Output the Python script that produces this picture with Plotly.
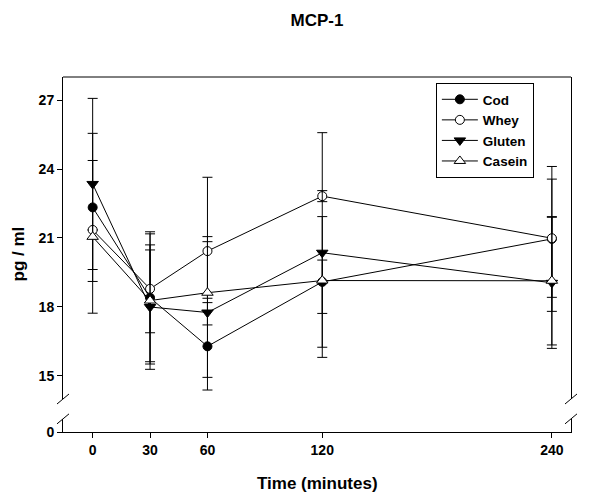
import plotly.graph_objects as go

# time points (minutes)
times = [0, 30, 60, 120, 240]

# group means (pg/ml)
cod = [22.33, 18.40, 16.29, 19.09, 20.96]
whey = [21.35, 18.79, 20.43, 22.82, 20.99]
gluten = [23.35, 18.00, 17.76, 20.36, 19.05]
casein = [21.05, 18.28, 18.62, 19.15, 19.14]

# error bars, upper and lower parts
cod_up = [3.22, 2.78, 1.90, 2.84, 3.15]
cod_dn = [3.22, 2.78, 1.90, 2.84, 3.15]
whey_up = [0, 1.91, 3.21, 0.24, 2.57]
whey_dn = [0, 1.91, 3.21, 0.24, 2.57]
gluten_up = [3.72, 2.48, 3.08, 5.22, 2.85]
gluten_dn = [3.72, 2.48, 2.82, 4.55, 2.85]
casein_up = [3.32, 2.99, 2.44, 0.89, 2.79]
casein_dn = [3.32, 2.99, 0.24, 1.43, 2.79]

names = ["Cod", "Whey", "Gluten", "Casein"]
means = [cod, whey, gluten, casein]
ups = [cod_up, whey_up, gluten_up, casein_up]
downs = [cod_dn, whey_dn, gluten_dn, casein_dn]
symbols = ["circle", "circle", "triangle-down", "triangle-up"]
fills = ["black", "white", "black", "white"]

FONT = "Liberation Sans, Arial, sans-serif"
OFF = 8  # the page body adds an 8px margin, pull everything up/left by that

fig = go.Figure()
for name, m, u, d, sym, fc in zip(names, means, ups, downs, symbols, fills):
    fig.add_trace(go.Scatter(
        x=times, y=m, name=name, mode="lines+markers",
        line=dict(color="black", width=1),
        marker=dict(symbol=sym, size=10 if "triangle" in sym else 9, color=fc,
                    line=dict(color="black", width=1)),
        error_y=dict(type="data", symmetric=False, array=u, arrayminus=d,
                     color="black", thickness=1, width=5),
    ))

# empty trace so the lower (0) part of the broken axis is drawn
fig.add_trace(go.Scatter(x=[None], y=[None], yaxis="y2", showlegend=False,
                         hoverinfo="skip"))

# broken y axis: upper part 14-28, lower part just 0
lo_top = 0.037
up_bot = 0.093

tickf = dict(size=14, weight="bold", family=FONT)

fig.update_layout(
    width=600, height=496,
    margin=dict(l=63 - OFF, r=29 + OFF, t=77 - OFF, b=64 + OFF),
    paper_bgcolor="white", plot_bgcolor="white",
    font=dict(family=FONT, color="black", size=12),
    title=dict(text="MCP-1", x=0.5, xref="paper", y=1 - (20 - OFF) / 496, yref="container",
               xanchor="center", yanchor="middle", automargin=False,
               font=dict(size=17, weight="bold", family=FONT)),
    xaxis=dict(range=[-15.5, 250], tickvals=times, ticktext=[str(t) for t in times],
               ticks="outside", ticklen=5, tickcolor="black", showline=True,
               linecolor="black", linewidth=1, showgrid=False, zeroline=False,
               anchor="y2", automargin=False, tickfont=tickf),
    yaxis=dict(domain=[up_bot, 1], range=[14, 28], tickvals=[15, 18, 21, 24, 27],
               ticks="outside", ticklen=5, tickcolor="black", showline=True, mirror=True,
               linecolor="black", linewidth=1, showgrid=False, zeroline=False,
               anchor="x", automargin=False, tickfont=tickf),
    yaxis2=dict(domain=[0, lo_top], range=[0, 0.565], tickvals=[0],
                ticks="outside", ticklen=5, tickcolor="black", showline=True, mirror=True,
                linecolor="black", linewidth=1, showgrid=False, zeroline=False,
                anchor="x", automargin=False, tickfont=tickf),
    legend=dict(x=0.734, y=0.983, xanchor="left", yanchor="top",
                bordercolor="black", borderwidth=1, bgcolor="white",
                font=dict(size=13.5, weight="bold", family=FONT),
                itemwidth=36, tracegroupgap=0),
    showlegend=True,
)

# top frame line and break marks
shapes = [dict(type="line", xref="paper", yref="paper", x0=0, x1=1, y0=1, y1=1,
               line=dict(color="black", width=1))]
for xa in [0, 1]:
    for ya in [up_bot, lo_top]:
        shapes.append(dict(type="line", xref="paper", yref="paper",
                           xsizemode="pixel", xanchor=xa, x0=-6, x1=6,
                           ysizemode="pixel", yanchor=ya, y0=-5, y1=5,
                           line=dict(color="black", width=1)))
fig.update_layout(shapes=shapes)

fig.add_annotation(text="pg / ml", xref="paper", yref="paper", x=0, y=0.5,
                   xshift=-45, textangle=-90, showarrow=False,
                   xanchor="center", yanchor="middle",
                   font=dict(size=17, weight="bold", family=FONT))
fig.add_annotation(text="Time (minutes)", xref="paper", yref="paper", x=0.5, y=0,
                   yshift=-51, showarrow=False, xanchor="center", yanchor="middle",
                   font=dict(size=17, weight="bold", family=FONT))

fig.write_html("out.html")
